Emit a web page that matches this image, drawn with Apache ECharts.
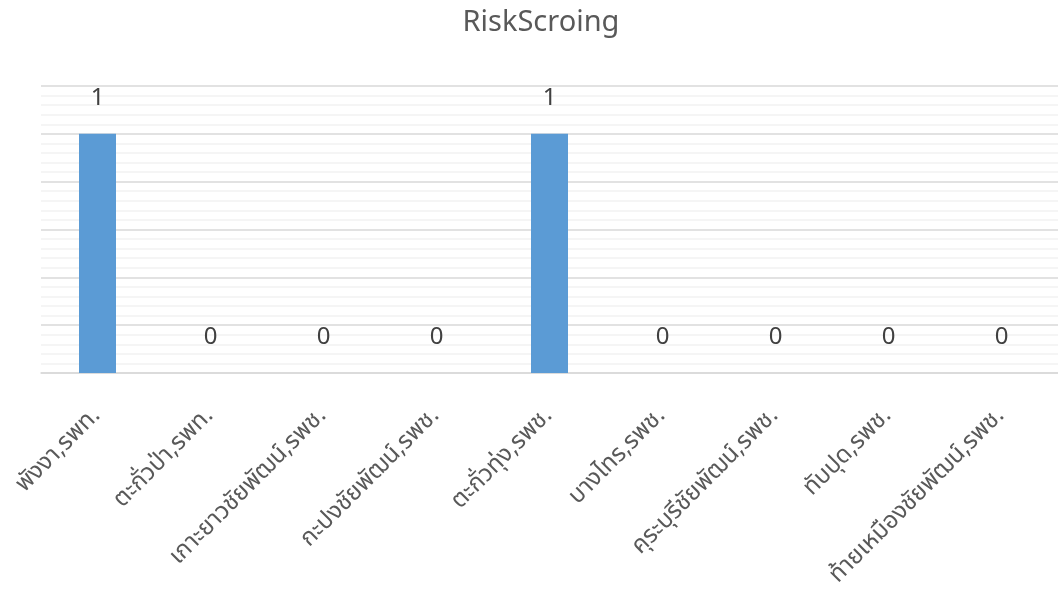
<!DOCTYPE html>
<html>
<head>
<meta charset="utf-8">
<script src="https://cdn.jsdelivr.net/npm/echarts@6/dist/echarts.min.js"></script>
<style>html,body{margin:0;padding:0;background:#fff;}#c{width:1058px;height:594px;}</style>
</head>
<body>
<div id="c"></div>
<script>
const categories = ['พังงา,รพท.','ตะกั่วป่า,รพท.','เกาะยาวชัยพัฒน์,รพช.','กะปงชัยพัฒน์,รพช.','ตะกั่วทุ่ง,รพช.','บางไทร,รพช.','คุระบุรีชัยพัฒน์,รพช.','ทับปุด,รพช.','ท้ายเหมืองชัยพัฒน์,รพช.'];
const values = [1,0,0,0,1,0,0,0,0];
const yMin = 0, yMax = 1.2, yInterval = 0.2;

const chart = echarts.init(document.getElementById('c'), null, {renderer:'canvas'});
const font = "'Noto Sans Thai','Noto Sans','Open Sans',sans-serif";
chart.setOption({
  animation:false,
  backgroundColor:'#ffffff',
  title:{text:'RiskScroing', left:536, top:6, textAlign:'center', textStyle:{fontFamily:font, fontSize:29, fontWeight:'normal', color:'#595959'}},
  grid:{left:41, right:-3, top:86, bottom:221, containLabel:false},
  xAxis:{type:'category', data:categories,
    axisLine:{show:true, lineStyle:{color:'#d9d9d9', width:1.5}},
    axisTick:{show:false},
    axisLabel:{rotate:45, interval:0, margin:40, fontFamily:font, fontSize:24, color:'#595959'}
  },
  yAxis:{type:'value', min:yMin, max:yMax, interval:yInterval,
    axisLabel:{show:false}, axisLine:{show:false}, axisTick:{show:false},
    splitLine:{show:true, lineStyle:{color:'#d9d9d9', width:1.5}},
    minorTick:{show:false, splitNumber:5},
    minorSplitLine:{show:true, lineStyle:{color:'#f2f2f2', width:1.5}}
  },
  series:[{type:'bar', data:values, barWidth:37, itemStyle:{color:'#5b9bd5'},
    label:{show:true, position:'top', distance:22, fontFamily:font, fontSize:24, color:'#404040'}}]
});
</script>
</body>
</html>
